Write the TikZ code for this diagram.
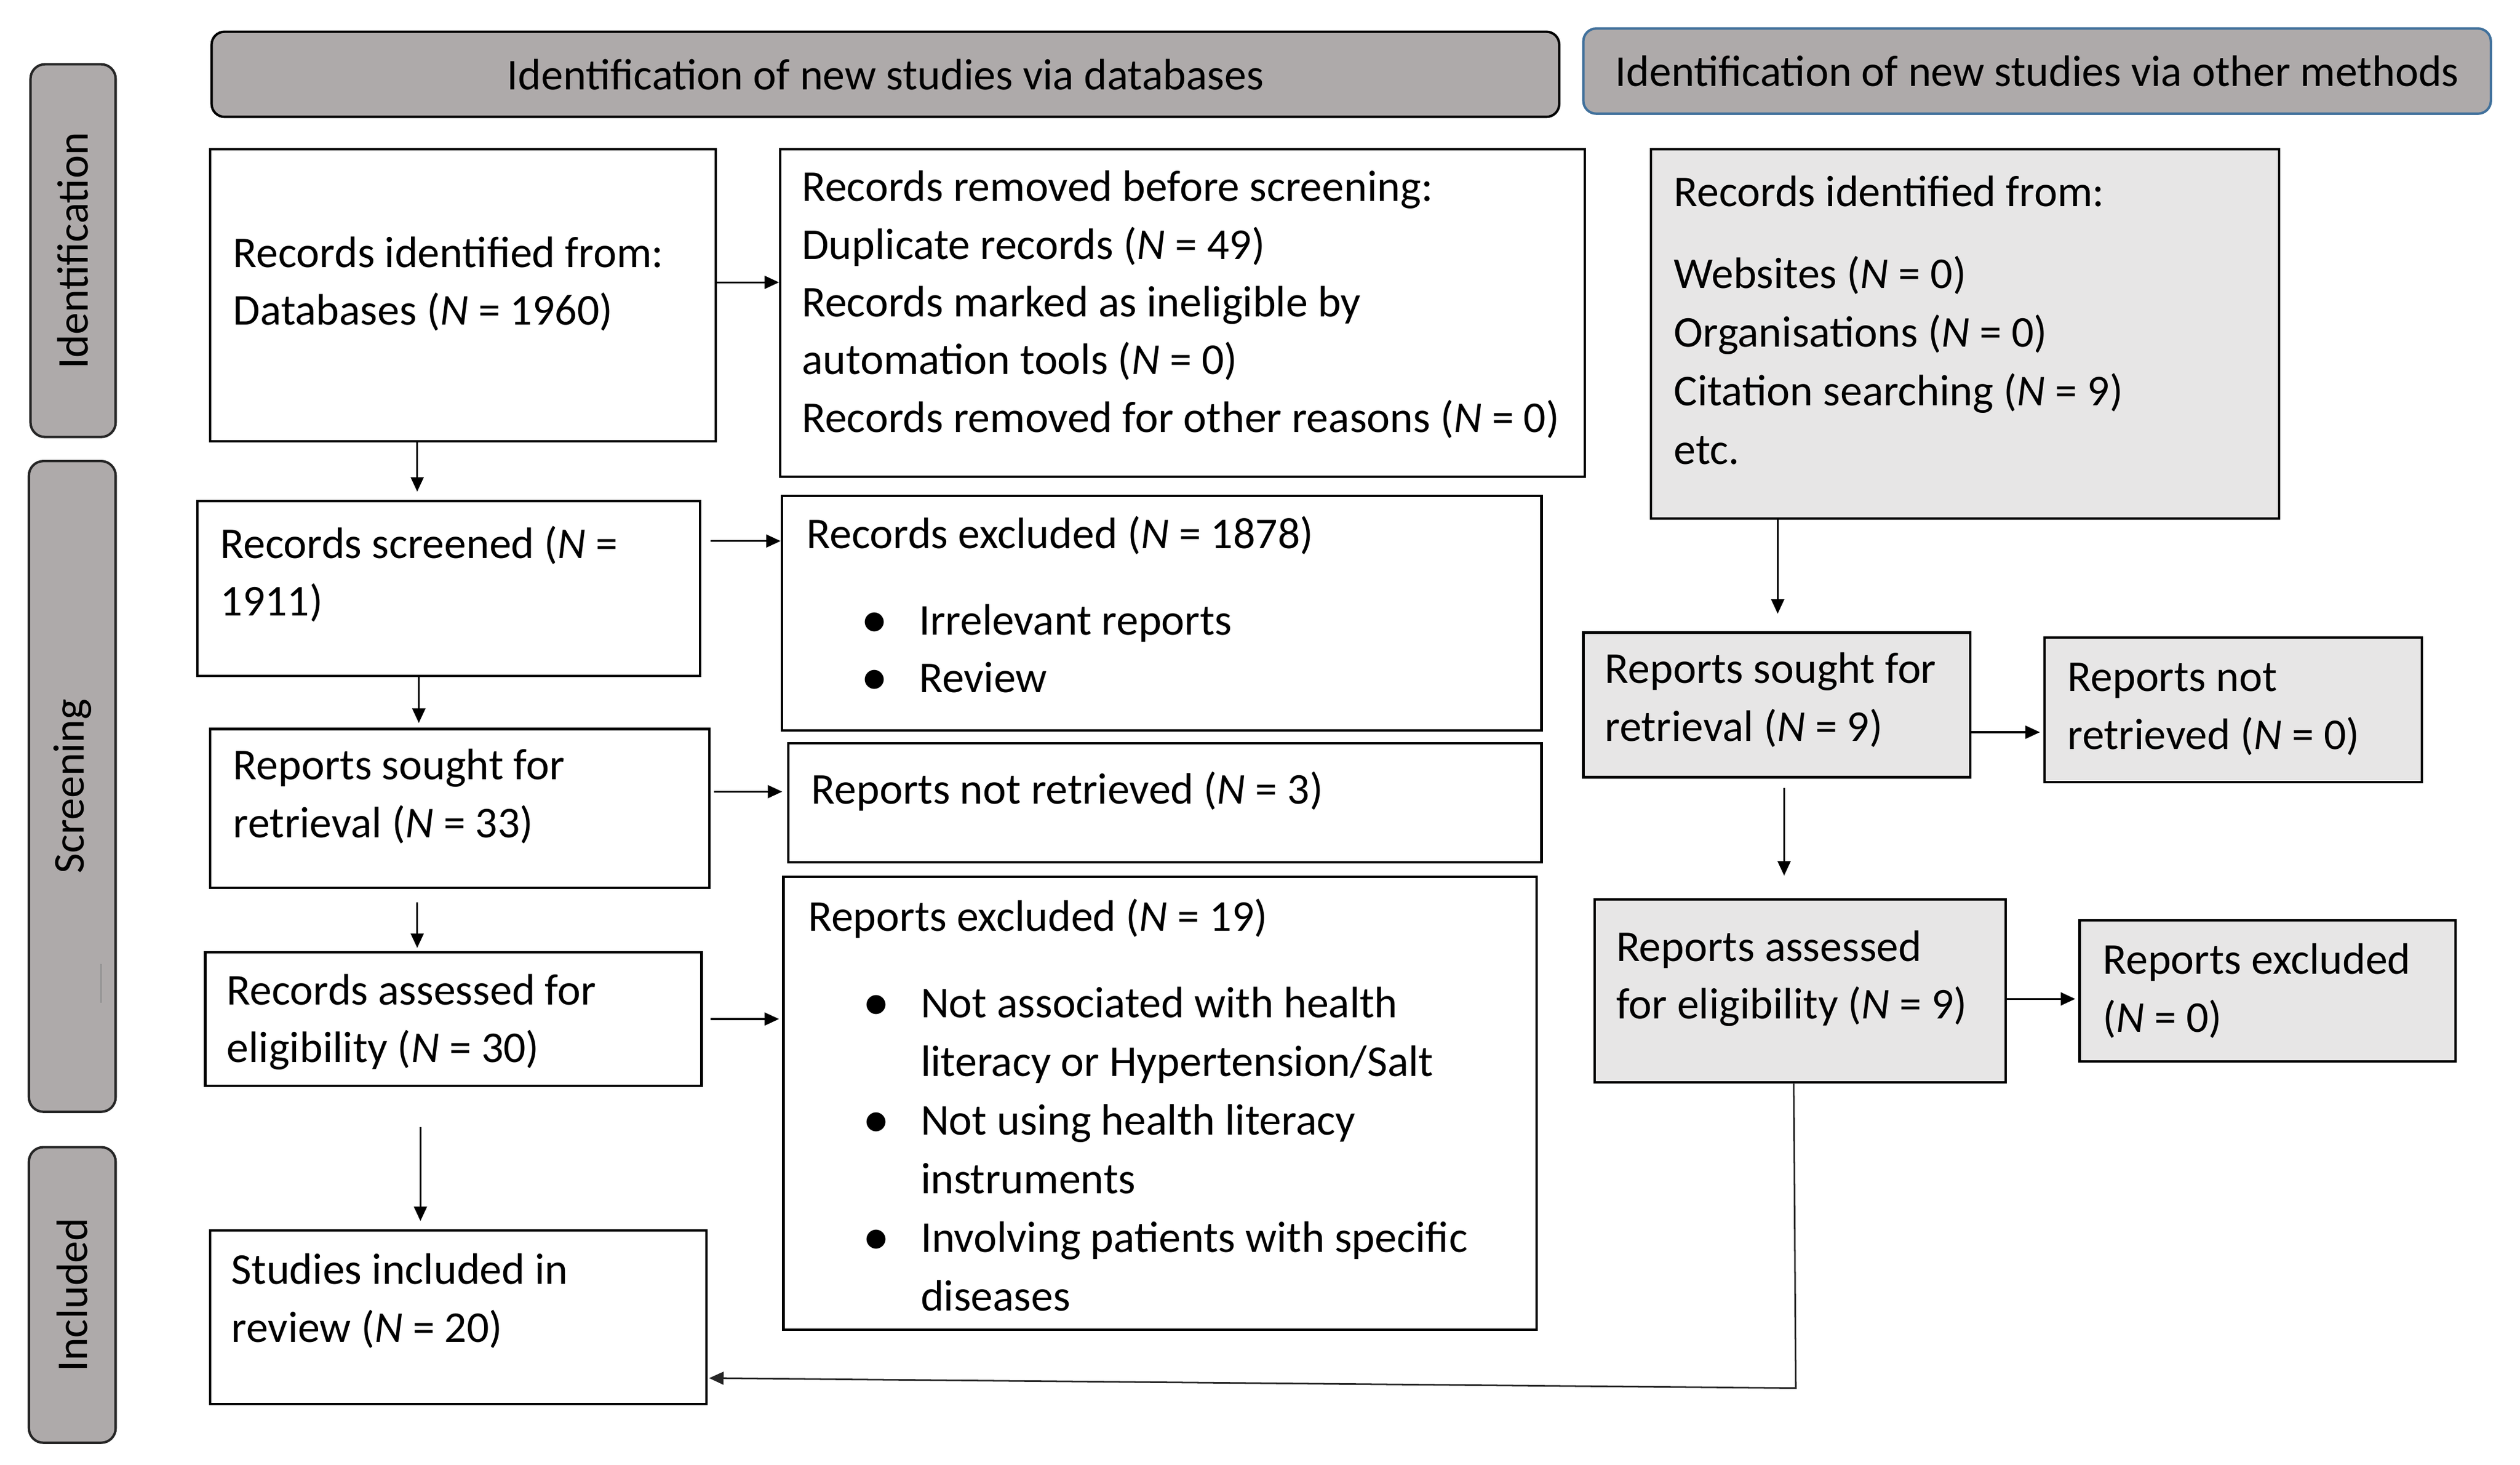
\documentclass[tikz,border=0pt]{standalone}
\usepackage{fontspec}
\setmainfont{Carlito}
\usetikzlibrary{arrows.meta}
\definecolor{hdr}{HTML}{AEAAAA}
\definecolor{lite}{HTML}{E7E6E6}
\definecolor{blueline}{HTML}{41719C}
\newcommand\bul{\makebox[36pt][l]{\raisebox{-1.4pt}{\scalebox{1.22}{\textbullet}}}}
\newcommand\ind{\hspace*{36pt}}
\newcommand\NN{\textit{N}}
\begin{document}
\begin{tikzpicture}[x=1pt,y=-1pt,
 box/.style={draw=black, line width=1.5pt, fill=white, anchor=north west, inner sep=0pt},
 gbox/.style={box, fill=lite},
 hdrbox/.style={draw=black, line width=1.5pt, fill=hdr, rounded corners=8pt, anchor=north west, inner sep=0pt, font=\fontsize{27.4}{36}\selectfont},
 stage/.style={draw=black!85, line width=1.5pt, fill=hdr, rounded corners=9pt, inner sep=0pt, rotate=90, font=\fontsize{27.4}{36}\selectfont},
 txt/.style={anchor=north west, inner sep=0pt, align=left, font=\fontsize{27.4}{35.9}\selectfont},
 txtw/.style={txt, font=\fontsize{27.4}{36.5}\selectfont},
 arr/.style={-{Triangle[length=9pt,width=8pt]}, line width=1.2pt},
]
\path[use as bounding box, fill=white] (0,0) rectangle (1568.9,911.8);

% stage labels
\node[stage, minimum width=232pt, minimum height=53pt] (s1) at (45.5,156) {Identification};
\node[stage, minimum width=405pt, minimum height=54pt] (s2) at (45,489.5) {Screening};
\node[stage, minimum width=184pt, minimum height=54pt] (s3) at (45,806) {Included};
\draw[black!45, line width=0.8pt] (63,600) -- (63,624);

% headers
\node[hdrbox, minimum width=839pt, minimum height=53pt] (h1) at (131,19) {Identification of new studies via databases};
\node[hdrbox, draw=blueline, minimum width=565pt, minimum height=53pt] (h2) at (985,17) {Identification of new studies via other methods};

% left column boxes
\node[box, minimum width=315pt, minimum height=182pt] (b1) at (130,92) {};
\node[box, minimum width=501pt, minimum height=204pt] (b2) at (485,92) {};
\node[box, minimum width=313pt, minimum height=109pt] (b3) at (122,311) {};
\node[box, minimum width=473pt, minimum height=146pt] (b4) at (486,308) {};
\node[box, minimum width=311pt, minimum height=99pt] (b5) at (130,453) {};
\node[box, minimum width=469pt, minimum height=74pt] (b6) at (490,462) {};
\node[box, minimum width=309pt, minimum height=83pt] (b7) at (127,592) {};
\node[box, minimum width=469pt, minimum height=282pt] (b8) at (487,545) {};
\node[box, minimum width=309pt, minimum height=108pt] (b9) at (130,765) {};
% right column boxes
\node[gbox, minimum width=391pt, minimum height=230pt] (b10) at (1027,92) {};
\node[gbox, minimum width=241pt, minimum height=90pt] (b11) at (985,393) {};
\node[gbox, minimum width=235pt, minimum height=90pt] (b12) at (1272,396) {};
\node[gbox, minimum width=256pt, minimum height=114pt] (b13) at (992,559) {};
\node[gbox, minimum width=234pt, minimum height=88pt] (b14) at (1294,572) {};

% texts
\node[txt] (t1) at (145,141) {\strut Records identified from:\\Databases (\NN{} = 1960)};
\node[txt] (t2) at (499,100) {\strut Records removed before screening:\\Duplicate records (\NN{} = 49)\\Records marked as ineligible by\\automation tools (\NN{} = 0)\\Records removed for other reasons (\NN{} = 0)};
\node[txt] (t3) at (137,322) {\strut Records screened (\NN{} =\\1911)};
\node[txt] (t4) at (502,316) {\strut Records excluded (\NN{} = 1878)\\[18pt]\hspace*{34pt}\bul Irrelevant reports\\\hspace*{34pt}\bul Review};
\node[txt] (t5) at (145,460) {\strut Reports sought for\\retrieval (\NN{} = 33)};
\node[txt] (t6) at (505,475) {\strut Reports not retrieved (\NN{} = 3)};
\node[txt] (t7) at (141,600) {\strut Records assessed for\\eligibility (\NN{} = 30)};
\node[txtw] (t8) at (503,553.6) {\strut Reports excluded (\NN{} = 19)\\[17.5pt]\hspace*{34pt}\bul Not associated with health\\\hspace*{34pt}\ind literacy or Hypertension/Salt\\\hspace*{34pt}\bul Not using health literacy\\\hspace*{34pt}\ind instruments\\\hspace*{34pt}\bul Involving patients with specific\\\hspace*{34pt}\ind diseases};
\node[txt] (t9) at (144,774) {\strut Studies included in\\review (\NN{} = 20)};
\node[txtw] (t10) at (1042,102.6) {\strut Records identified from:\\[14.5pt]Websites (\NN{} = 0)\\Organisations (\NN{} = 0)\\Citation searching (\NN{} = 9)\\etc.};
\node[txt] (t11) at (999,400) {\strut Reports sought for\\retrieval (\NN{} = 9)};
\node[txt] (t12) at (1287,405) {\strut Reports not\\retrieved (\NN{} = 0)};
\node[txt] (t13) at (1006,573) {\strut Reports assessed\\for eligibility (\NN{} = 9)};
\node[txt] (t14) at (1309,581) {\strut Reports excluded\\(\NN{} = 0)};

% connectors
\coordinate (c1) at ([xshift=-28.5pt]b1.south);
\draw[arr, shorten >=5pt] (c1) -- (c1 |- b3.north);
\coordinate (c2) at ([yshift=8pt]b1.east);
\draw[arr] (c2) -- (c2 -| b2.west);
\coordinate (c3) at ([xshift=6pt,yshift=29.5pt]b3.east);
\draw[arr] (c3) -- (c3 -| b4.west);
\coordinate (c4) at ([xshift=-18.5pt]b3.south);
\draw[arr, shorten >=3pt] (c4) -- (c4 |- b5.north);
\coordinate (c5) at ([xshift=2pt,yshift=10.5pt]b5.east);
\draw[arr, shorten >=3pt] (c5) -- (c5 -| b6.west);
\coordinate (c6) at ([xshift=-26.5pt]b5.south);
\draw[arr, shorten <=8pt, shorten >=2pt] (c6) -- (c6 |- b7.north);
\coordinate (c7) at ([xshift=5pt]b7.east);
\draw[arr, shorten >=2pt] (c7) -- (c7 -| b8.west);
\coordinate (c8) at ([xshift=-20.5pt]b7.south);
\draw[arr, shorten <=25pt, shorten >=5pt] (c8) -- (c8 |- b9.north);
\coordinate (c9) at ([xshift=-116.5pt]b10.south);
\draw[arr, shorten >=11pt] (c9) -- (c9 |- b11.north);
\coordinate (c10) at ([yshift=-17pt]b11.east);
\draw[arr, shorten >=2pt] (c10) -- (c10 -| b12.west);
\coordinate (c11) at ([xshift=4.5pt]b11.south);
\draw[arr, shorten <=6pt, shorten >=14pt] (c11) -- (c11 |- b13.north);
\coordinate (c12) at ([yshift=-5pt]b13.east);
\draw[arr, shorten >=2pt] (c12) -- (c12 -| b14.west);
\coordinate (c13) at ([xshift=-4pt]b13.south);
\coordinate (bend) at (1118,864);
\draw[arr, line width=1pt, black!85, shorten >=1pt] (c13) -- (bend) -- ([yshift=-38pt]b9.east);
\end{tikzpicture}
\end{document}
